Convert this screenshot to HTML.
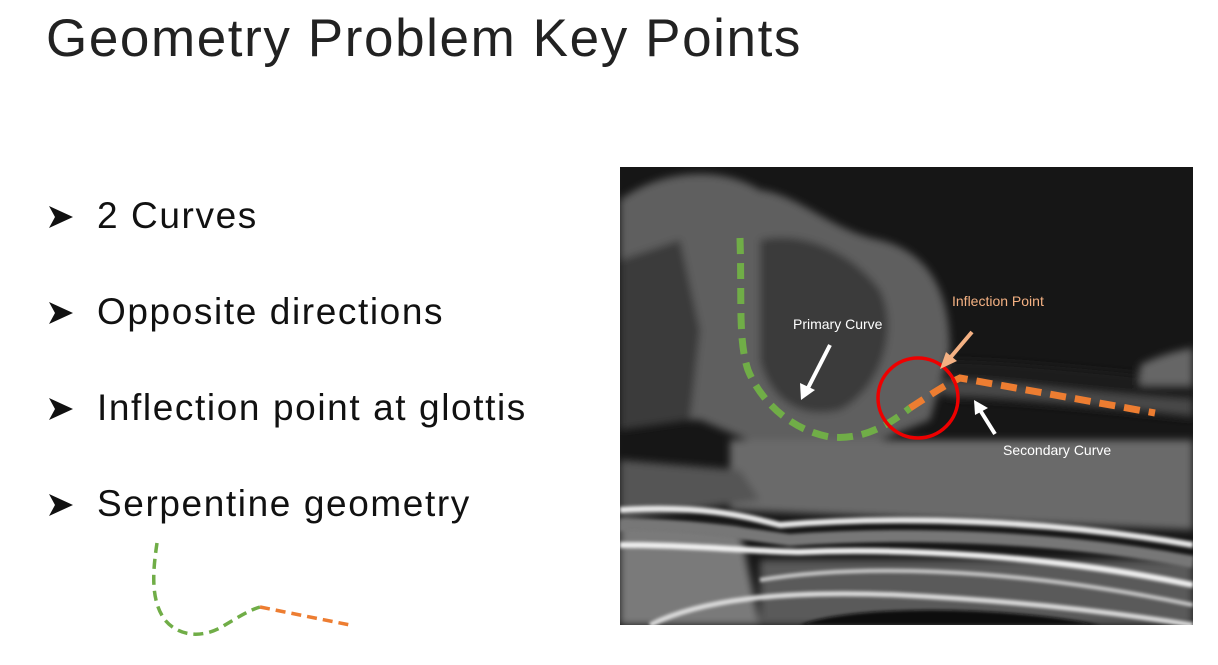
<!DOCTYPE html>
<html><head><meta charset="utf-8"><style>
html,body{margin:0;padding:0;background:#fff;}
body{width:1218px;height:665px;position:relative;overflow:hidden;font-family:"Liberation Sans",sans-serif;}
.t{position:absolute;left:46px;top:8px;font-size:53px;color:#222;font-weight:300;letter-spacing:1.6px;}
.b{position:absolute;left:97px;font-size:37px;color:#111;letter-spacing:1.6px;}
</style></head><body>
<div class="t">Geometry Problem Key Points</div>
<div class="b" style="top:195px">2 Curves</div>
<div class="b" style="top:291px">Opposite directions</div>
<div class="b" style="top:387px">Inflection point at glottis</div>
<div class="b" style="top:483px">Serpentine geometry</div>

<svg width="1218" height="665" style="position:absolute;left:0;top:0">
<defs>
<filter id="bl"><feGaussianBlur stdDeviation="4"/></filter>
<filter id="bl2"><feGaussianBlur stdDeviation="1.5"/></filter>
<clipPath id="cp"><rect x="620" y="167" width="573" height="458"/></clipPath>
</defs>
<g fill="#111">
<polygon points="49,206 73,217 49,228 55,217"/>
<polygon points="49,302 73,313 49,324 55,313"/>
<polygon points="49,398 73,409 49,420 55,409"/>
<polygon points="49,494 73,505 49,516 55,505"/>
</g>
<path d="M157,543 C153,570 150,600 165,620 C180,638 205,638 225,625 C240,616 250,610 260,607" fill="none" stroke="#70ad47" stroke-width="3.5" stroke-dasharray="10,6"/>
<path d="M260,607 L350,625" fill="none" stroke="#ed7d31" stroke-width="3.5" stroke-dasharray="10,6"/>

<g clip-path="url(#cp)">
<rect x="620" y="167" width="573" height="458" fill="#161616"/>
<g filter="url(#bl)">
<path d="M620,200 C660,170 720,165 760,190 C800,195 830,230 880,240 C920,250 950,280 950,350 L930,420 L880,440 L760,445 L700,420 L620,420 Z" fill="#5e5e5e"/>
<path d="M760,240 C800,230 850,250 880,290 C900,330 880,390 840,410 C800,420 770,400 760,360 Z" fill="#3a3a3a"/>
<path d="M620,260 L680,240 L700,330 L690,420 L620,430 Z" fill="#3a3a3a"/>
<path d="M950,360 C1000,360 1100,370 1193,380 L1193,420 C1100,410 1000,400 950,400 Z" fill="#1a1a1a"/>
<path d="M940,380 C1000,380 1100,395 1193,400 L1193,415 C1100,405 1000,395 940,395 Z" fill="#4a4a4a"/>
<path d="M1140,365 C1160,355 1180,350 1193,348 L1193,385 L1140,385 Z" fill="#666"/>
<path d="M730,440 L1193,440 L1193,530 L730,510 Z" fill="#6a6a6a"/>
<path d="M620,460 L740,470 L760,500 L620,520 Z" fill="#555"/>
<path d="M620,520 L740,530 L760,625 L620,625 Z" fill="#7a7a7a"/>
<path d="M760,560 L1193,560 L1193,625 L760,625 Z" fill="#5a5a5a"/>
</g>
<g filter="url(#bl2)">
<path d="M620,510 C700,505 740,515 780,525 C900,515 1050,520 1193,545" fill="none" stroke="#e8e8e8" stroke-width="6"/>
<path d="M620,525 C700,525 750,535 790,540 C900,532 1050,535 1193,562" fill="none" stroke="#777" stroke-width="12"/>
<path d="M620,545 C700,545 760,552 800,552 C900,548 1050,555 1193,585" fill="none" stroke="#f0f0f0" stroke-width="6"/>
<path d="M760,580 C850,565 1000,565 1193,605" fill="none" stroke="#ccc" stroke-width="4"/>
<path d="M650,625 C700,600 780,590 900,595 C1000,600 1100,610 1193,625" fill="none" stroke="#ddd" stroke-width="5"/>
<path d="M800,625 C850,605 1000,605 1100,625 Z" fill="#0d0d0d"/>
</g>
</g>

<path d="M740,238 C742,300 738,340 748,370 C760,400 790,430 830,437 C860,440 885,428 910,408" fill="none" stroke="#70ad47" stroke-width="7" stroke-dasharray="16,9"/>
<path d="M910,408 C930,395 945,385 960,378 L1155,413" fill="none" stroke="#ed7d31" stroke-width="7" stroke-dasharray="16,9"/>
<circle cx="918" cy="398" r="40" fill="none" stroke="#e00" stroke-width="3.5"/>
<line x1="830" y1="345" x2="808" y2="388" stroke="#fff" stroke-width="4"/>
<polygon points="801,400 800,383 815,390" fill="#fff"/>
<line x1="995" y1="434" x2="980" y2="410" stroke="#fff" stroke-width="4"/>
<polygon points="974,400 988,408 975,415" fill="#fff"/>
<line x1="972" y1="332" x2="950" y2="358" stroke="#f4b183" stroke-width="4"/>
<polygon points="940,369 946,352 957,361" fill="#f4b183"/>
<text x="793" y="329" font-size="14" fill="#fff" font-family="Liberation Sans,sans-serif">Primary Curve</text>
<text x="952" y="306" font-size="14" fill="#f4b183" font-family="Liberation Sans,sans-serif">Inflection Point</text>
<text x="1003" y="455" font-size="14" fill="#fff" font-family="Liberation Sans,sans-serif">Secondary Curve</text>
</svg>
</body></html>
